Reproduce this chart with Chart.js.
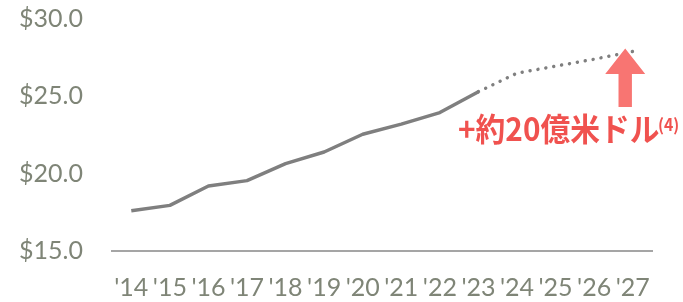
<!DOCTYPE html>
<html><head><meta charset="utf-8">
<script src="https://cdn.jsdelivr.net/npm/chart.js@4/dist/chart.umd.min.js"></script>
<style>html,body{margin:0;padding:0;background:#fff}#wrap{width:683px;height:302px}</style>
</head><body><div id="wrap"><canvas id="c"></canvas></div>
<script>
const years = ["'14","'15","'16","'17","'18","'19","'20","'21","'22","'23","'24","'25","'26","'27"];
const actual = [17.6,17.95,19.2,19.55,20.65,21.4,22.55,23.2,23.95,25.3,null,null,null,null];
const projected = [null,null,null,null,null,null,null,null,null,25.3,26.5,26.95,27.4,27.9];
const yTicks = [15,20,25,30];
const annoText = "+約20億米ドル";
const annoNote = "(4)";

const tickColor = '#7f8577';
const annoPlugin = {
  id:'anno',
  afterDraw(chart){
    const {ctx, scales:{x,y}} = chart;
    const ax = x.getPixelForValue(13) - 7.5;
    const tip = y.getPixelForValue(28.1);
    const headBase = y.getPixelForValue(26.44);
    const bottom = y.getPixelForValue(24.31);
    ctx.save();
    ctx.fillStyle = '#f87572';
    ctx.beginPath();
    ctx.moveTo(ax, tip);
    ctx.lineTo(ax+20, headBase);
    ctx.lineTo(ax+6.7, headBase);
    ctx.lineTo(ax+6.7, bottom);
    ctx.lineTo(ax-6.7, bottom);
    ctx.lineTo(ax-6.7, headBase);
    ctx.lineTo(ax-20, headBase);
    ctx.closePath();
    ctx.fill();
    ctx.fillStyle = '#f0524f';
    ctx.textBaseline = 'alphabetic';
    ctx.textAlign = 'left';
    const tx = 458, ty = 141;
    ctx.save();
    ctx.translate(tx, ty);
    ctx.scale(0.93, 1);
    ctx.font = 'bold 32px "Noto Sans CJK JP"';
    ctx.fillText(annoText, 0, 0);
    ctx.restore();
    ctx.font = 'bold 17px "Noto Sans CJK JP"';
    ctx.save();
    ctx.translate(658, 131);
    ctx.scale(0.93, 1);
    ctx.fillText(annoNote, 0, 0);
    ctx.restore();
    ctx.restore();
  }
};

new Chart(document.getElementById('c'), {
  type:'line',
  data:{labels:years, datasets:[
    {data:actual, borderColor:'#7f7f7f', borderWidth:3.5, pointRadius:0, borderJoinStyle:'round', tension:0},
    {data:projected, borderColor:'#7f7f7f', borderWidth:3.5, pointRadius:0, borderDash:[0.01,8], borderCapStyle:'round', tension:0}
  ]},
  options:{
    responsive:true, maintainAspectRatio:false, animation:false,
    layout:{padding:{top:19,right:31,left:0,bottom:0}},
    plugins:{legend:{display:false},tooltip:{enabled:false}},
    scales:{
      x:{offset:true,
        grid:{display:false,drawTicks:false},
        border:{display:true,color:'#a5a5a5',width:2},
        ticks:{color:tickColor,font:{family:'Lato',size:25},padding:22,maxRotation:0,autoSkip:false},
        afterFit(s){s.height=51;}
      },
      y:{min:15,max:30,
        afterBuildTicks(s){s.ticks = yTicks.map(v=>({value:v}));},
        grid:{display:false,drawTicks:false},
        border:{display:false},
        ticks:{color:tickColor,font:{family:'Lato',size:25},padding:29,callback:v=>'$'+Number(v).toFixed(1)},
        afterFit(s){s.width=112; s.paddingTop=0; s.paddingBottom=0;}
      }
    }
  },
  plugins:[annoPlugin]
});
</script></body></html>
